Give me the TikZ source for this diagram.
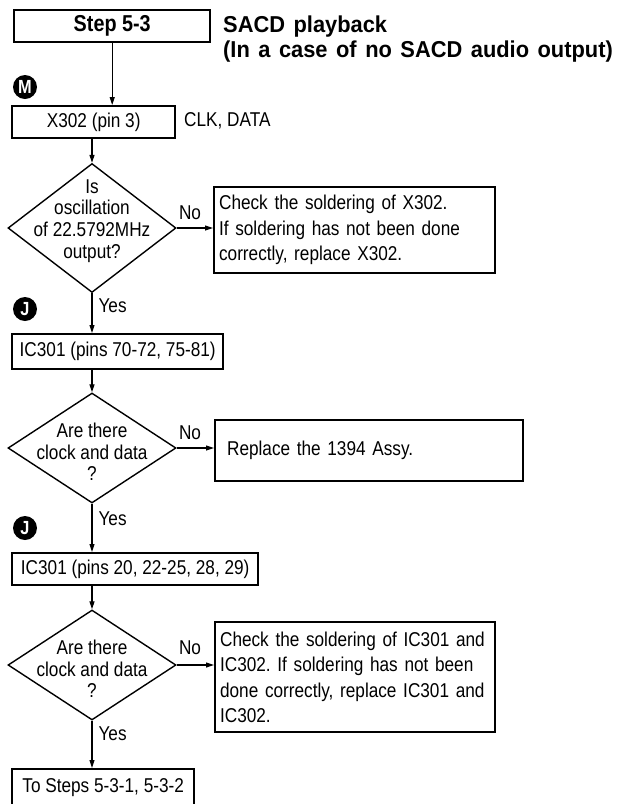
\documentclass[tikz,border=0pt]{standalone}
\usepackage{fontspec}
\setmainfont{Liberation Sans}[FakeStretch=0.86]
\newfontfamily\headfont{Liberation Sans}[FakeStretch=0.95]
\newcommand\widegap{\spaceskip=8.5pt\relax}
\usetikzlibrary{shapes.geometric, arrows.meta, calc, positioning}
\tikzset{
  % riquadro di un passo di misura
  stepbox/.style={draw=black, line width=2.4pt, anchor=north west, inner xsep=3pt,
    inner ysep=0pt, minimum height=32pt, font=\fontsize{20}{22}\selectfont},
  % riquadro con l'intervento da fare
  fixbox/.style={draw=black, line width=2.2pt, anchor=north west, align=left,
    inner xsep=5pt, inner ysep=0pt, font=\fontsize{20}{25.5}\selectfont},
  % rombo di decisione
  query/.style={diamond, draw=black, line width=1.4pt, minimum width=168pt,
    inner sep=0pt},
  qtext/.style={align=center, inner sep=0pt, font=\fontsize{20}{21.7}\selectfont},
  % marcatore del punto di misura
  probe/.style={circle, fill=black, minimum size=24pt, inner sep=0pt, text=white,
    font=\fontsize{19}{19}\selectfont\bfseries},
  % freccia del flusso
  flow/.style={-{Triangle[length=8pt, width=5pt]}, line width=1.1pt},
  % etichette
  lbl/.style={inner sep=0pt, font=\fontsize{20}{22}\selectfont},
  ttl/.style={inner sep=0pt, align=left, font=\fontsize{23}{24.5}\headfont\bfseries},
}
\frenchspacing

\begin{document}
\begin{tikzpicture}[x=1pt, y=-1pt]
  \useasboundingbox (0,0) rectangle (633,804);
  \node[stepbox, minimum width=196pt, font=\fontsize{23}{24}\selectfont\bfseries] (step) at (13,9) {Step 5-3};
  \node[ttl, anchor=west] (title) at (223,39) {\widegap SACD playback\\\widegap (In a case of no SACD audio output)};
  \node[probe] (m) at (25,87) {M};
  \node[stepbox, minimum width=163pt] (x302) at (11,105) {X302 (pin 3)};
  \node[lbl, anchor=west] (clk) at (184,121) {CLK, DATA};
  \node[query, minimum height=129pt] (d1) at (92,228) {};
  \node[qtext] (q1) at (92,221) {Is\\oscillation\\of 22.5792MHz\\output?};
  \node[fixbox, minimum width=281pt, minimum height=86pt, text width=271pt] (fix1) at (213,186)
    {Check the soldering of X302.\\If soldering has not been done\\correctly, replace X302.};
  \node[lbl] (no1) at (190,213) {No};
  \node[probe] (j1) at (25,309) {J};
  \node[stepbox, minimum width=211pt, minimum height=35pt] (ic1) at (11,333) {IC301 (pins 70-72, 75-81)};
  \node[query, minimum height=110pt] (d2) at (92,448) {};
  \node[qtext] (q2) at (92,452) {Are there\\clock and data\\?};
  \node[fixbox, minimum width=308pt, minimum height=61pt, text width=284pt, inner xsep=12pt] (fix2) at (214,419)
    {Replace the 1394 Assy.};
  \node[lbl] (no2) at (190,433) {No};
  \node[probe] (j2) at (25,528) {J};
  \node[stepbox, minimum width=246pt] (ic2) at (11,552) {IC301 (pins 20, 22-25, 28, 29)};
  \node[query, minimum height=110pt] (d3) at (92,665) {};
  \node[qtext] (q3) at (92,669) {Are there\\clock and data\\?};
  \node[fixbox, minimum width=280pt, minimum height=110pt, text width=270pt] (fix3) at (214,621)
    {Check the soldering of IC301 and\\IC302. If soldering has not been\\done correctly, replace IC301 and\\IC302.};
  \node[lbl] (no3) at (190,648) {No};
  \node[stepbox, minimum width=182pt, minimum height=37pt] (end) at (11,768) {To Steps 5-3-1, 5-3-2};
  \draw[flow] (step.south) -- (step.south |- x302.north);
  \draw[flow] (x302.south -| d1.north) -- (d1.north);
  \draw[flow] (d1.east) -- (d1.east -| fix1.west);
  \draw[flow] (d1.south) -- node[lbl, pos=0.32, right, xshift=6pt] (y1) {Yes} (d1.south |- ic1.north);
  \draw[flow] (ic1.south -| d2.north) -- (d2.north);
  \draw[flow] (d2.east) -- (d2.east -| fix2.west);
  \draw[flow] (d2.south) -- node[lbl, pos=0.32, right, xshift=6pt] (y2) {Yes} (d2.south |- ic2.north);
  \draw[flow] (ic2.south -| d3.north) -- (d3.north);
  \draw[flow] (d3.east) -- (d3.east -| fix3.west);
  \draw[flow] (d3.south) -- node[lbl, pos=0.27, right, xshift=6pt] (y3) {Yes} (d3.south |- end.north);
\end{tikzpicture}
\end{document}
